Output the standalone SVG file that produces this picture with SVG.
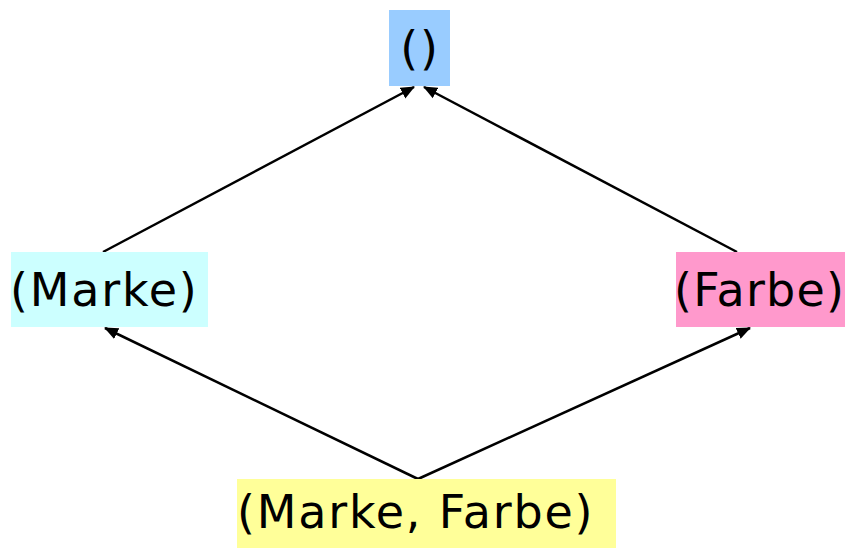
<svg xmlns="http://www.w3.org/2000/svg" width="845" height="548" viewBox="0 0 845 548">
<style>
text{font-family:"DejaVu Sans",Verdana,sans-serif;font-size:46px;fill:#000;letter-spacing:1.8px}
.edge{stroke:#000;stroke-width:2.5;fill:none}
</style>
<defs>
<marker id="ah" markerWidth="14" markerHeight="14" refX="13" refY="7" orient="auto" markerUnits="userSpaceOnUse" viewBox="0 0 14 14">
<path d="M0,1 L14,7 L0,13 Z" fill="#000"/>
</marker>
</defs>
<rect width="845" height="548" fill="#fff"/>
<g id="connectors">
<line class="edge" x1="103" y1="252" x2="414" y2="87" marker-end="url(#ah)"/>
<line class="edge" x1="737" y1="252" x2="424" y2="87" marker-end="url(#ah)"/>
<line class="edge" x1="418" y1="479" x2="105" y2="328" marker-end="url(#ah)"/>
<line class="edge" x1="418" y1="479" x2="750" y2="328" marker-end="url(#ah)"/>
</g>
<g id="node-empty">
<rect x="389" y="10" width="61" height="76" fill="#99ccff"/>
<text x="420" y="64" text-anchor="middle">()</text>
</g>
<g id="node-marke">
<rect x="11" y="252" width="197" height="75" fill="#ccffff"/>
<text x="10" y="306">(Marke)</text>
</g>
<g id="node-farbe">
<rect x="676" y="252" width="169" height="75" fill="#ff99cc"/>
<text x="674" y="306" style="letter-spacing:1.2px">(Farbe)</text>
</g>
<g id="node-markefarbe">
<rect x="237" y="479" width="379" height="69" fill="#ffff99"/>
<text x="237" y="528">(Marke, Farbe)</text>
</g>
</svg>
